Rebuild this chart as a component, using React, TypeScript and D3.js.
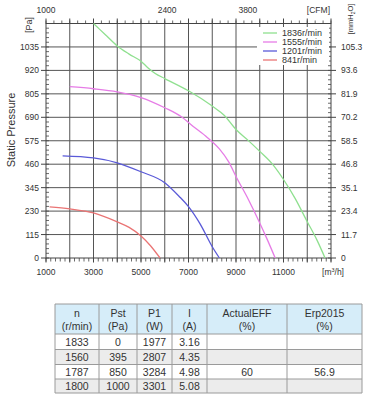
import React from "react";
import * as d3 from "d3";

const W = 371;
const H = 394;

const speedLabels = ["1836r/min", "1555r/min", "1201r/min", "841r/min"];
const colors = ["#8fe08f", "#e67ce6", "#5a5ad8", "#ea7474"];

const curve1836: [number, number][] = [
  [3000, 1150], [3500, 1095], [4000, 1040], [4500, 1000], [5000, 965], [5300, 932],
  [5600, 905], [6000, 880], [7000, 820], [8000, 745], [8500, 700], [9000, 630],
  [9500, 578], [10000, 523], [10500, 465], [11000, 385], [11500, 290], [12000, 178],
  [12400, 90], [12750, 0],
];
const curve1555: [number, number][] = [
  [2000, 840], [3000, 830], [4000, 815], [5000, 787], [6000, 737], [6700, 693],
  [7200, 645], [7800, 590], [8300, 535], [8700, 470], [9000, 400], [9500, 292],
  [10000, 172], [10300, 95], [10650, 0],
];
const curve1201: [number, number][] = [
  [1700, 501], [3000, 491], [4000, 467], [5000, 423], [6000, 369], [6600, 303],
  [7000, 252], [7500, 165], [8000, 55], [8300, 0],
];
const curve841: [number, number][] = [
  [1150, 251], [2000, 241], [3000, 221], [4000, 177], [4500, 150], [5000, 108],
  [5400, 60], [5800, 0],
];
const curves = [curve1836, curve1555, curve1201, curve841];

const xTickValues = [1000, 3000, 5000, 7000, 9000, 11000];
const yTickValues = [0, 115, 230, 345, 460, 575, 690, 805, 920, 1035];
const rightLabels = ["0", "11.7", "23.4", "35.1", "46.8", "58.5", "70.2", "81.9", "93.6", "105.3"];
const topLabels = ["1000", "2400", "3800"];
const topLabelAt = [1000, 6100, 9500];

const tableHeader1 = ["n", "Pst", "P1", "I", "ActualEFF", "Erp2015"];
const tableHeader2 = ["(r/min)", "(Pa)", "(W)", "(A)", "(%)", "(%)"];
const tableRows = [
  ["1833", "0", "1977", "3.16", "", ""],
  ["1560", "395", "2807", "4.35", "", ""],
  ["1787", "850", "3284", "4.98", "60", "56.9"],
  ["1800", "1000", "3301", "5.08", "", ""],
];

const FONT = "'Liberation Sans', Arial, Helvetica, sans-serif";

export default function App() {
  const left = 46, right = 331, top = 23.5, bottom = 258;
  const x = d3.scaleLinear().domain([1000, 13000]).range([left, right]);
  const y = d3.scaleLinear().domain([0, 1150]).range([bottom, top]);
  const line = d3
    .line<[number, number]>()
    .x((d) => x(d[0]))
    .y((d) => y(d[1]))
    .curve(d3.curveMonotoneX);

  const gridX = d3.range(2000, 13000, 1000);
  const gridY = d3.range(115, 1150, 115);
  const minorY = d3.range(0, 1150.1, 23);
  const minorBottom = d3.range(1000, 13000.1, 200);
  const majorTop = d3.range(1000, 13000.1, 1000);
  const minorTop = d3.range(1000, 13000.1, 1000 / 3);

  const gridColor = "#555";
  const textColor = "#333";

  // table geometry
  const colEdges = [55, 99, 137, 172, 207, 287, 362];
  const rowEdges = [304, 334, 349.5, 364.5, 379, 393];
  const rowBg = ["#ffffff", "#ececec", "#ffffff", "#ececec"];

  return (
    <svg width={W} height={H} style={{ position: "absolute", left: 0, top: 0, background: "#fff" }} fontFamily={FONT}>
      {/* grid */}
      {gridX.map((v) => (
        <line key={"gx" + v} x1={x(v)} x2={x(v)} y1={top} y2={bottom} stroke={gridColor} strokeWidth={1} />
      ))}
      {gridY.map((v) => (
        <line key={"gy" + v} x1={left} x2={right} y1={y(v)} y2={y(v)} stroke={gridColor} strokeWidth={1} />
      ))}
      {/* frame */}
      <rect x={left} y={top} width={right - left} height={bottom - top} fill="none" stroke="#444" strokeWidth={1} />

      {/* left ticks */}
      {minorY.map((v) => (
        <line key={"ml" + v} x1={left} x2={left + 3} y1={y(v)} y2={y(v)} stroke="#444" strokeWidth={0.8} />
      ))}
      {yTickValues.map((v) => (
        <line key={"Ml" + v} x1={left - 5} x2={left} y1={y(v)} y2={y(v)} stroke="#444" strokeWidth={1} />
      ))}
      {yTickValues.map((v) => (
        <text key={"tl" + v} x={left - 7} y={y(v)} dy="0.35em" textAnchor="end" fontSize={8.5} fill={textColor}>
          {v}
        </text>
      ))}
      {/* right ticks */}
      {minorY.map((v) => (
        <line key={"mr" + v} x1={right - 3} x2={right} y1={y(v)} y2={y(v)} stroke="#444" strokeWidth={0.8} />
      ))}
      {yTickValues.map((v) => (
        <line key={"Mr" + v} x1={right} x2={right + 5} y1={y(v)} y2={y(v)} stroke="#444" strokeWidth={1} />
      ))}
      {yTickValues.map((v, i) => (
        <text key={"tr" + v} x={right + 10} y={y(v)} dy="0.35em" textAnchor="start" fontSize={8.5} fill={textColor}>
          {rightLabels[i]}
        </text>
      ))}
      {/* bottom ticks */}
      {minorBottom.map((v) => (
        <line key={"mb" + v} x1={x(v)} x2={x(v)} y1={bottom} y2={bottom + 3.5} stroke="#444" strokeWidth={0.8} />
      ))}
      {majorTop.map((v) => (
        <line key={"Mb" + v} x1={x(v)} x2={x(v)} y1={bottom} y2={bottom + 4.5} stroke="#444" strokeWidth={1} />
      ))}
      {xTickValues.map((v) => (
        <text key={"tb" + v} x={x(v)} y={bottom + 17} textAnchor="middle" fontSize={8.5} fill={textColor}>
          {v}
        </text>
      ))}
      <text x={333} y={bottom + 17} textAnchor="middle" fontSize={8.5} fill={textColor}>
        [m<tspan dy={-3} fontSize={5.5}>3</tspan><tspan dy={3}>/h]</tspan>
      </text>
      {/* top ticks */}
      {minorTop.map((v) => (
        <line key={"mt" + v} x1={x(v)} x2={x(v)} y1={top} y2={top - 3} stroke="#444" strokeWidth={0.8} />
      ))}
      {majorTop.map((v) => (
        <line key={"Mt" + v} x1={x(v)} x2={x(v)} y1={top} y2={top - 5} stroke="#444" strokeWidth={1} />
      ))}
      {topLabels.map((t, i) => (
        <text key={"tt" + t} x={x(topLabelAt[i])} y={13} textAnchor="middle" fontSize={8.5} fill={textColor}>
          {t}
        </text>
      ))}
      <text x={330} y={13} textAnchor="end" fontSize={8.5} fill={textColor}>
        [CFM]
      </text>

      {/* axis titles */}
      <text transform="translate(15,130) rotate(-90)" textAnchor="middle" fontSize={11} fill={textColor}>
        Static Pressure
      </text>
      <text transform="translate(32,25) rotate(-90)" textAnchor="middle" fontSize={9} fill={textColor}>
        [Pa]
      </text>
      <text transform="translate(353,19) rotate(-90)" textAnchor="middle" fontSize={7.5} fill={textColor}>
        <tspan>[mmH</tspan>
        <tspan fontSize={5} dy={2}>2</tspan>
        <tspan dy={-2}>O]</tspan>
      </text>

      {/* curves */}
      {curves.map((c, i) => (
        <path key={"c" + i} d={line(c) || ""} fill="none" stroke={colors[i]} strokeWidth={1.3} />
      ))}

      {/* legend */}
      <rect x={257} y={27} width={72} height={38} fill="#fff" />
      {speedLabels.map((s, i) => (
        <g key={"lg" + s} transform={`translate(263,${33 + i * 9})`}>
          <line x1={0} x2={14} y1={0} y2={0} stroke={colors[i]} strokeWidth={1.3} />
          <text x={19} y={0} dy="0.35em" fontSize={9} fill={textColor}>
            {s}
          </text>
        </g>
      ))}

      {/* table */}
      <rect x={colEdges[0]} y={rowEdges[0]} width={colEdges[6] - colEdges[0]} height={rowEdges[1] - rowEdges[0]} fill="#d6edf9" />
      {tableRows.map((_, r) => (
        <rect
          key={"rb" + r}
          x={colEdges[0]}
          y={rowEdges[r + 1]}
          width={colEdges[6] - colEdges[0]}
          height={rowEdges[r + 2] - rowEdges[r + 1]}
          fill={rowBg[r]}
        />
      ))}
      {rowEdges.map((ry, i) => (
        <line key={"hr" + i} x1={colEdges[0]} x2={colEdges[6]} y1={ry} y2={ry} stroke="#9a9a9a" strokeWidth={1} />
      ))}
      {colEdges.map((cx, i) => (
        <line key={"vr" + i} x1={cx} x2={cx} y1={rowEdges[0]} y2={rowEdges[5]} stroke="#9a9a9a" strokeWidth={1} />
      ))}
      {tableHeader1.map((h, c) => (
        <g key={"th" + c}>
          <text x={(colEdges[c] + colEdges[c + 1]) / 2} y={317} textAnchor="middle" fontSize={10.5} fill={textColor}>
            {h}
          </text>
          <text x={(colEdges[c] + colEdges[c + 1]) / 2} y={330} textAnchor="middle" fontSize={10.5} fill={textColor}>
            {tableHeader2[c]}
          </text>
        </g>
      ))}
      {tableRows.map((row, r) =>
        row.map((cell, c) => (
          <text
            key={"td" + r + "-" + c}
            x={(colEdges[c] + colEdges[c + 1]) / 2}
            y={(rowEdges[r + 1] + rowEdges[r + 2]) / 2}
            dy="0.36em"
            textAnchor="middle"
            fontSize={10.5}
            fill={textColor}
          >
            {cell}
          </text>
        ))
      )}
    </svg>
  );
}
